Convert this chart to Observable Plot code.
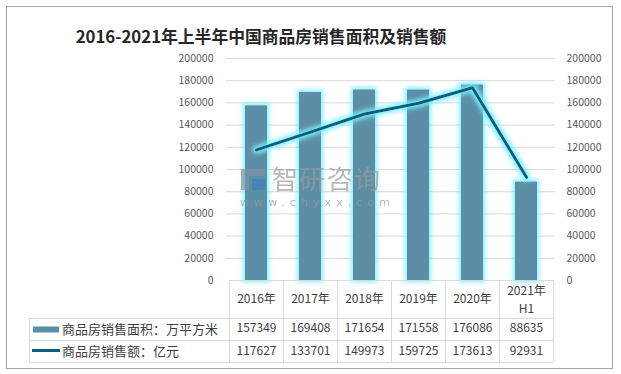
<!DOCTYPE html>
<html>
<head>
<meta charset="utf-8">
<script src="https://cdn.jsdelivr.net/npm/d3@7"></script>
<script src="https://cdn.jsdelivr.net/npm/@observablehq/plot@0.6"></script>
<style>
  html, body { margin: 0; padding: 0; background: #fff; }
  svg { display: block; }
</style>
</head>
<body>
<div id="chart"></div>
<script>
const title = "2016-2021年上半年中国商品房销售面积及销售额";
const years = ["2016年", "2017年", "2018年", "2019年", "2020年", "2021年\nH1"];
const areaValues = [157349, 169408, 171654, 171558, 176086, 88635];
const salesValues = [117627, 133701, 149973, 159725, 173613, 92931];
const yTicks = [0, 20000, 40000, 60000, 80000, 100000, 120000, 140000, 160000, 180000, 200000];
const seriesNames = ["商品房销售面积：万平方米", "商品房销售额：亿元"];
const watermark = ["智研咨询", "www.chyxx.com"];

const data = years.map((year, i) => ({year, area: areaValues[i], sales: salesValues[i]}));

const W = 621, H = 374;
const mL = 226, mR = 66, mT = 58, mB = 94;
const font = "'Noto Sans CJK SC', 'Noto Sans', sans-serif";
const barColor = "#5b8fa6";
const lineColor = "#0b5d7c";
const gridColor = "#d9d9d9";

const plot = Plot.plot({
  width: W,
  height: H,
  marginLeft: mL,
  marginRight: mR,
  marginTop: mT,
  marginBottom: mB,
  style: {fontFamily: font, background: "#fff", overflow: "visible"},
  x: {domain: years, paddingInner: 0.6, paddingOuter: 0.3, axis: null},
  y: {domain: [0, 200000], axis: null},
  marks: [
    Plot.ruleY(yTicks.slice(1), {stroke: gridColor, strokeWidth: 1}),
    Plot.text(yTicks, {y: d => d, text: d => String(d), frameAnchor: "left", textAnchor: "end", dx: -13, fill: "#595959", fontSize: 10.5}),
    Plot.text(yTicks, {y: d => d, text: d => String(d), frameAnchor: "right", textAnchor: "start", dx: 11, fill: "#595959", fontSize: 10.5}),
    Plot.barY(data, {x: "year", y: "area", fill: barColor}),
    Plot.line(data, {x: "year", y: "sales", stroke: lineColor, strokeWidth: 3, strokeLinejoin: "round", strokeLinecap: "round"}),
    Plot.text(data.filter(d => !d.year.includes("\n")), {x: "year", text: "year", frameAnchor: "bottom", dy: 22, fill: "#404040", fontSize: 12}),
    Plot.text(data.filter(d => d.year.includes("\n")), {x: "year", text: "year", frameAnchor: "bottom", dy: 32, lineHeight: 1.5, fill: "#404040", fontSize: 12}),
    Plot.text(data, {x: "year", text: d => String(d.area), frameAnchor: "bottom", dy: 51.5, fill: "#404040", fontSize: 12}),
    Plot.text(data, {x: "year", text: d => String(d.sales), frameAnchor: "bottom", dy: 74, fill: "#404040", fontSize: 12})
  ]
});

document.getElementById("chart").appendChild(plot);

const svg = d3.select(plot);
const x = plot.scale("x");
const step = x.step;
const first = x.apply(years[0]) - (step - x.bandwidth) / 2;
const bounds = years.map((_, i) => first + i * step).concat([first + years.length * step]);
const right = bounds[bounds.length - 1];
const base = H - mB;
const rowY = [base, base + 38, base + 60, base + 82];

// glow filter
const defs = svg.append("defs");
const f = defs.append("filter").attr("id", "glow").attr("filterUnits", "userSpaceOnUse")
  .attr("x", 0).attr("y", 0).attr("width", W).attr("height", H);
f.append("feMorphology").attr("in", "SourceAlpha").attr("operator", "dilate").attr("radius", 1.6).attr("result", "dil");
f.append("feGaussianBlur").attr("in", "dil").attr("stdDeviation", 2).attr("result", "blur");
f.append("feFlood").attr("flood-color", "#7af0fd").attr("flood-opacity", 0.95).attr("result", "flood");
f.append("feComposite").attr("in", "flood").attr("in2", "blur").attr("operator", "in").attr("result", "glowc");
const m = f.append("feMerge");
m.append("feMergeNode").attr("in", "glowc");
m.append("feMergeNode").attr("in", "SourceGraphic");
svg.selectAll('g[aria-label="bar"], g[aria-label="line"]').attr("filter", "url(#glow)");

// watermark
const wm = svg.append("g").attr("opacity", 0.7).attr("text-anchor", "start");
wm.append("rect").attr("x", 241).attr("y", 169).attr("width", 8).attr("height", 21).attr("fill", "#7f93a6");
wm.append("rect").attr("x", 249).attr("y", 169).attr("width", 16).attr("height", 7).attr("fill", "#7f93a6");
wm.append("rect").attr("x", 252).attr("y", 179).attr("width", 13).attr("height", 11).attr("fill", "#3f7fbf");
wm.append("text").attr("x", 272).attr("y", 189).attr("font-size", 26).attr("fill", "#9a9a9a")
  .attr("font-family", font).attr("textLength", 108).attr("lengthAdjust", "spacing").text(watermark[0]);
wm.append("text").attr("x", 240).attr("y", 206).attr("font-size", 11).attr("fill", "#9a9a9a")
  .attr("font-family", "'DejaVu Sans', sans-serif").attr("textLength", 150).attr("lengthAdjust", "spacing").text(watermark[1]);

// table lines
const tg = svg.append("g").attr("stroke", gridColor).attr("stroke-width", 1).attr("shape-rendering", "crispEdges");
tg.append("line").attr("x1", bounds[0]).attr("x2", right).attr("y1", rowY[0] + 0.5).attr("y2", rowY[0] + 0.5);
[1, 2, 3].forEach(k => tg.append("line").attr("x1", 29).attr("x2", right).attr("y1", rowY[k] + 0.5).attr("y2", rowY[k] + 0.5));
bounds.forEach(b => tg.append("line").attr("x1", b + 0.5).attr("x2", b + 0.5).attr("y1", rowY[0]).attr("y2", rowY[3]));
tg.append("line").attr("x1", 29.5).attr("x2", 29.5).attr("y1", rowY[1]).attr("y2", rowY[3]);

// row labels with legend swatches
const lg = svg.append("g").attr("text-anchor", "start");
lg.append("rect").attr("x", 33).attr("y", 326.5).attr("width", 26).attr("height", 6).attr("fill", barColor);
lg.append("line").attr("x1", 32).attr("x2", 60).attr("y1", 350.5).attr("y2", 350.5).attr("stroke", lineColor).attr("stroke-width", 3);
lg.append("text").attr("x", 62).attr("y", 329).attr("dy", "0.35em").attr("font-size", 13).attr("fill", "#404040").attr("font-family", font).text(seriesNames[0]);
lg.append("text").attr("x", 62).attr("y", 351).attr("dy", "0.35em").attr("font-size", 13).attr("fill", "#404040").attr("font-family", font).text(seriesNames[1]);

// title
svg.append("text").attr("x", 261).attr("y", 43).attr("text-anchor", "middle").attr("font-size", 16.8).attr("font-weight", "bold")
  .attr("fill", "#262626").attr("font-family", font).text(title);

// outer border
svg.append("rect").attr("x", 6.5).attr("y", 6.5).attr("width", 606).attr("height", 362)
  .attr("fill", "none").attr("stroke", "#a6a6a6").attr("stroke-width", 1);
</script>
</body>
</html>
